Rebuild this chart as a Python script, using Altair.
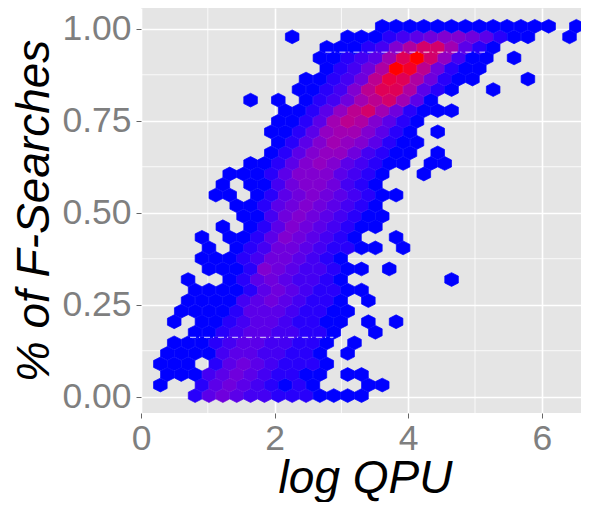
import altair as alt
import pandas as pd

# Hexagon grid
X_EVEN = 0.81
X_ODD = 0.705
X_STEP = 0.2076
Y_BASE = 0.003
Y_STEP = 0.02868

# First occupied column per row (bottom row first)
row_first = [0, -2, -2, -2, -2, -1, 0, -1, -1, 0, 0, 0, 1, 1, 1, 1, 2, 4, 3, 2,
             2, 3, 4, 6, 6, 6, 6, 7, 4, 8, 8, 10, 9, 10, 7, 14]
# Hex level per cell (0-f = density, '.' = empty)
row_levels = [
    "1343221110000",
    "0..134321010...00",
    "000234321100.00",
    "000.134321110",
    "000023322110.0",
    "000123322110.0",
    "00123322110..0",
    "0.00123321100.0.0",
    "0000133321100",
    "000023432110.0",
    "0000134321100",
    "0..013432210.......0",
    "000154322100.0",
    "00012443210",
    "0.01244321100.0",
    "0.0013543210..0",
    "0.0135432100",
    "00245432100",
    "00134543210",
    "00.01345432100",
    "0.0024554210",
    "000135553210..0",
    "001356532100.00",
    "01356642100.0",
    "01357653100",
    "00136775310.0",
    "00137985310",
    "001369b741000",
    "0.0.012479b730",
    "001259cc8310..0",
    "001249dc84100...0",
    "01248fe94100",
    "001237cfb6200.0",
    "0001258bb7310",
    "0...00012345543100..0",
    "0000000000000.0",
]

x_major = [0, 2, 4, 6]
x_minor = [1, 3, 5]
y_major = [0, 0.25, 0.5, 0.75, 1]
y_minor = [0.125, 0.375, 0.625, 0.875]

dash_x = [0.735, 2.76]
dash_x2 = [2.88, 5.15]
dash_y = [0.1615, 0.9365]

cells = []
for r, (first, levels) in enumerate(zip(row_first, row_levels)):
    x0 = X_EVEN if r % 2 == 0 else X_ODD
    for i, ch in enumerate(levels):
        if ch != ".":
            cells.append({"x": x0 + (first + i) * X_STEP,
                          "y": Y_BASE + r * Y_STEP,
                          "level": int(ch, 16)})
hex_df = pd.DataFrame(cells)

XDOM = [0, 6.587]
YDOM = [-0.0443, 1.0565]
FONT = "Liberation Sans"
x_scale = alt.Scale(domain=XDOM, nice=False, zero=False)
y_scale = alt.Scale(domain=YDOM, nice=False, zero=False)

HEX = "M0,-1.014L1,-0.507L1,0.507L0,1.014L-1,0.507L-1,-0.507Z"
color_scale = alt.Scale(type="pow", exponent=1.5, domain=[0, 15],
                        range=["#0000FF", "#FF0000"], interpolate="lab")

ax_x = alt.Axis(
    title="log QPU", values=x_major, format="d", grid=True, gridColor="white", gridWidth=1.6,
    domain=False, ticks=True, tickColor="#666666", tickSize=5, tickWidth=1,
    labelColor="#7F7F7F", labelFont=FONT, labelFontSize=35.5, labelPadding=3,
    labelFlush=False, labelOverlap=False,
    titleFont=FONT, titleFontSize=46, titleFontStyle="italic", titleFontWeight="normal",
    titleColor="black", titlePadding=0, titleAnchor="middle", titleX=224)
ax_y = alt.Axis(
    title="% of F-Searches", values=y_major, format=".2f", grid=True, gridColor="white", gridWidth=1.6,
    domain=False, ticks=True, tickColor="#666666", tickSize=5, tickWidth=1,
    labelColor="#7F7F7F", labelFont=FONT, labelFontSize=35.5, labelPadding=5,
    labelOverlap=False,
    titleFont=FONT, titleFontSize=46, titleFontStyle="italic", titleFontWeight="normal",
    titleColor="black", titlePadding=3)

minor_v = alt.Chart(pd.DataFrame({"x": x_minor})).mark_rule(color="white", strokeWidth=0.8).encode(
    x=alt.X("x:Q", scale=x_scale, axis=ax_x))
minor_h = alt.Chart(pd.DataFrame({"y": y_minor})).mark_rule(color="white", strokeWidth=0.8).encode(
    y=alt.Y("y:Q", scale=y_scale, axis=ax_y))

hexes = alt.Chart(hex_df).mark_point(
    filled=True, shape=HEX, size=185, opacity=1, strokeWidth=0.7
).encode(
    x=alt.X("x:Q", scale=x_scale, axis=ax_x),
    y=alt.Y("y:Q", scale=y_scale, axis=ax_y),
    fill=alt.Fill("level:Q", scale=color_scale, legend=None),
    stroke=alt.Stroke("level:Q", scale=color_scale, legend=None),
)

dashes = alt.Chart(pd.DataFrame({"x": dash_x, "x2": dash_x2, "y": dash_y})).mark_rule(
    color="white", strokeWidth=1, strokeDash=[6, 3, 1, 4], opacity=0.85
).encode(
    x=alt.X("x:Q", scale=x_scale, axis=ax_x),
    x2="x2:Q",
    y=alt.Y("y:Q", scale=y_scale, axis=ax_y),
)

chart = alt.layer(minor_v, minor_h, hexes, dashes).properties(
    width=440, height=405,
    background="white",
    autosize=alt.AutoSizeParams(type="none"),
    padding={"left": 133, "top": 0, "right": 0, "bottom": 89},
).configure_view(fill="#E5E5E5", stroke=None)

chart.save("out.html", embed_options={"renderer": "svg", "actions": False})
